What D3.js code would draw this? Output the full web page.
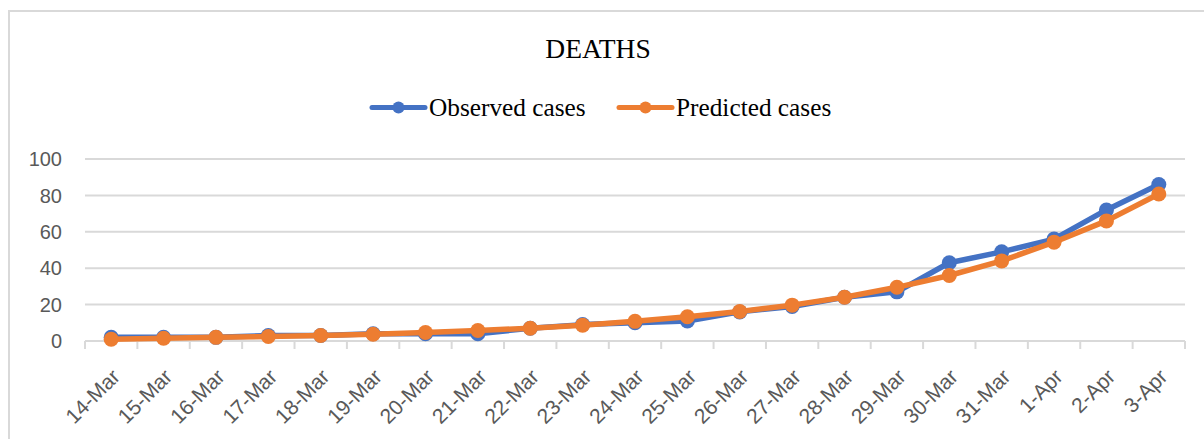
<!DOCTYPE html>
<html>
<head>
<meta charset="utf-8">
<script src="https://cdn.jsdelivr.net/npm/d3@7"></script>
<style>
  body { margin: 0; background: #fff; }
  svg { display: block; }
</style>
</head>
<body>
<svg id="chart" width="1204" height="439"></svg>
<script>
const dates = ['14-Mar','15-Mar','16-Mar','17-Mar','18-Mar','19-Mar','20-Mar','21-Mar','22-Mar','23-Mar',
  '24-Mar','25-Mar','26-Mar','27-Mar','28-Mar','29-Mar','30-Mar','31-Mar','1-Apr','2-Apr','3-Apr'];
const observed = [2, 2, 2, 3, 3, 4, 4, 4, 7, 9, 10, 11, 16, 19, 24, 27, 43, 49, 56, 72, 86];
const predicted = [1, 1.5, 2, 2.5, 3, 3.7, 4.7, 5.8, 7, 8.7, 10.8, 13.3, 16.2, 19.7, 24, 29.5, 36, 44, 54.3, 66, 80.8];
const yTicks = [0, 20, 40, 60, 80, 100];

const svg = d3.select('#chart');
const margin = {top: 159, bottom: 98, left: 85, right: 19};
const width = 1204, height = 439;

// chart frame (runs off right/bottom edges)
svg.append('rect')
  .attr('x', 9).attr('y', 11)
  .attr('width', 1220).attr('height', 460)
  .attr('fill', 'none')
  .attr('stroke', '#d9d9d9')
  .attr('stroke-width', 2);

const x = d3.scaleBand()
  .domain(dates)
  .range([margin.left, width - margin.right])
  .padding(0);

const y = d3.scaleLinear()
  .domain([0, 100])
  .range([height - margin.bottom, margin.top]);

// gridlines
svg.append('g')
  .selectAll('line')
  .data(yTicks)
  .enter()
  .append('line')
  .attr('x1', margin.left)
  .attr('x2', width - margin.right)
  .attr('y1', d => y(d))
  .attr('y2', d => y(d))
  .attr('stroke', '#d9d9d9')
  .attr('stroke-width', 2);

// y labels
svg.append('g')
  .selectAll('text')
  .data(yTicks)
  .enter()
  .append('text')
  .attr('x', 62)
  .attr('y', d => y(d))
  .attr('dy', '0.36em')
  .attr('text-anchor', 'end')
  .attr('font-family', 'Liberation Sans, Arial, sans-serif')
  .attr('font-size', 20)
  .attr('fill', '#595959')
  .text(d => d);

// x tick marks between categories
const bounds = dates.map(d => x(d)).concat([x.range()[1]]);
svg.append('g')
  .selectAll('line')
  .data(bounds)
  .enter()
  .append('line')
  .attr('x1', d => d).attr('x2', d => d)
  .attr('y1', y(0)).attr('y2', y(0) + 8)
  .attr('stroke', '#d9d9d9')
  .attr('stroke-width', 2);

// x labels
const cx = d => x(d) + x.bandwidth() / 2;
svg.append('g')
  .selectAll('text')
  .data(dates)
  .enter()
  .append('text')
  .attr('transform', d => 'translate(' + (cx(d) + 10) + ',' + (y(0) + 37) + ') rotate(-45)')
  .attr('text-anchor', 'end')
  .attr('font-family', 'Liberation Sans, Arial, sans-serif')
  .attr('font-size', 21)
  .attr('fill', '#595959')
  .text(d => d);

const series = [
  {name: 'Observed cases', values: observed, color: '#4472C4'},
  {name: 'Predicted cases', values: predicted, color: '#ED7D31'}
];

const line = d3.line()
  .x((d, i) => cx(dates[i]))
  .y(d => y(d));

series.forEach(s => {
  svg.append('path')
    .datum(s.values)
    .attr('d', line)
    .attr('fill', 'none')
    .attr('stroke', s.color)
    .attr('stroke-width', 5.5)
    .attr('stroke-linejoin', 'round');
  svg.append('g')
    .selectAll('circle')
    .data(s.values)
    .enter()
    .append('circle')
    .attr('cx', (d, i) => cx(dates[i]))
    .attr('cy', d => y(d))
    .attr('r', 7.5)
    .attr('fill', s.color);
});

// title
svg.append('text')
  .attr('x', 598)
  .attr('y', 58)
  .attr('text-anchor', 'middle')
  .attr('font-family', 'Liberation Serif, Times New Roman, serif')
  .attr('font-size', 27.5)
  .attr('fill', '#000')
  .text('DEATHS');

// legend
const legendX = [372, 619];
series.forEach((s, i) => {
  const g = svg.append('g').attr('transform', 'translate(' + legendX[i] + ',107.5)');
  g.append('line')
    .attr('x1', 0).attr('x2', 53)
    .attr('y1', 0).attr('y2', 0)
    .attr('stroke', s.color)
    .attr('stroke-width', 5)
    .attr('stroke-linecap', 'round');
  g.append('circle')
    .attr('cx', 26.5).attr('cy', 0)
    .attr('r', 6)
    .attr('fill', s.color);
  g.append('text')
    .attr('x', 57)
    .attr('y', 8)
    .attr('font-family', 'Liberation Serif, Times New Roman, serif')
    .attr('font-size', 25.3)
    .attr('fill', '#000')
    .text(s.name);
});
</script>
</body>
</html>
